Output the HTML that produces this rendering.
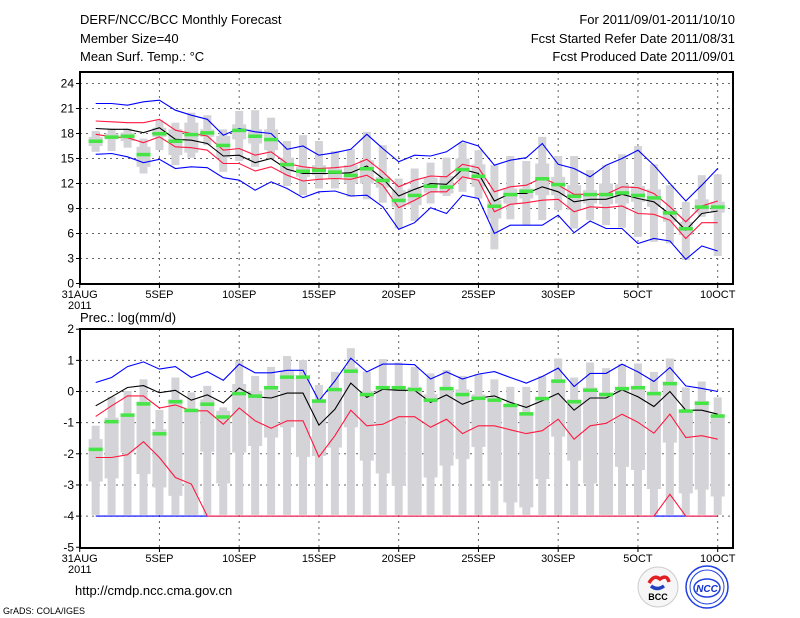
<!DOCTYPE html>
<html><head><meta charset="utf-8"><style>
body{margin:0;background:#fff;}
svg{display:block;font-family:"Liberation Sans",sans-serif;}
</style></head><body>
<svg id="c" width="800" height="618" viewBox="0 0 800 618">
<rect width="800" height="618" fill="#fff"/>
<g font-size="13" fill="#000">
<text x="80" y="24">DERF/NCC/BCC Monthly Forecast</text>
<text x="80" y="43">Member Size=40</text>
<text x="80" y="61">Mean Surf. Temp.: °C</text>
<text x="735" y="24" text-anchor="end">For 2011/09/01-2011/10/10</text>
<text x="735" y="43" text-anchor="end">Fcst Started Refer Date 2011/08/31</text>
<text x="735" y="61" text-anchor="end">Fcst Produced Date 2011/09/01</text>
<text x="80" y="322">Prec.: log(mm/d)</text>
<text x="75" y="595">http://cmdp.ncc.cma.gov.cn</text>
<text x="3" y="614" font-size="9">GrADS: COLA/IGES</text>
</g>
<g>
<circle cx="658" cy="587" r="20" fill="#f6f6f6" stroke="#ccc"/>
<path d="M649 583 q5 -9 11 -4 q7 -5 9 3" stroke="#e02020" stroke-width="3.5" fill="none"/>
<path d="M651 586 q6 5 13 0" stroke="#2040c0" stroke-width="3.5" fill="none"/>
<text x="658" y="600" font-size="9" font-weight="bold" text-anchor="middle" fill="#000">BCC</text>
</g>
<g>
<circle cx="707" cy="587" r="21" fill="#fff" stroke="#2040e0" stroke-width="1.5"/>
<circle cx="707" cy="587" r="17" fill="none" stroke="#2040e0" stroke-width="1"/>
<ellipse cx="707" cy="588" rx="13" ry="9" fill="none" stroke="#2040e0" stroke-width="1.5"/>
<text x="707" y="592" font-size="10" font-weight="bold" font-style="italic" text-anchor="middle" fill="#1030d0">NCC</text>
</g>
<g id="top"></g>
<g id="bot"></g>
</svg>
<script>
// ---- Temperature panel data (days 1..40) ----
const days=[1,2,3,4,5,6,7,8,9,10,11,12,13,14,15,16,17,18,19,20,21,22,23,24,25,26,27,28,29,30,31,32,33,34,35,36,37,38,39,40];
const tMax=[21.6,21.6,21.4,21.8,22.0,20.8,20.2,19.7,17.8,18.6,18.2,18.0,16.1,16.5,15.4,15.7,16.1,17.9,16.2,14.6,15.4,15.3,15.8,17.1,16.5,14.2,14.8,15.1,16.8,14.3,13.8,12.8,14.2,15.0,16.0,14.2,12.0,9.9,11.8,13.8];
const tMin=[15.5,15.6,15.2,14.5,14.9,13.8,14.0,13.9,12.7,12.4,11.2,12.2,11.4,10.3,11.0,11.1,10.5,10.6,9.2,6.5,7.3,9.1,8.4,10.6,10.2,6.0,7.0,7.0,7.0,8.2,6.1,7.5,6.6,6.6,4.8,5.4,5.1,2.9,4.5,3.9];
const tHi=[19.5,19.4,19.3,19.3,19.7,18.4,18.0,17.7,16.0,16.2,15.4,15.8,14.4,14.0,13.8,13.9,14.1,14.9,13.4,11.6,12.4,12.9,12.8,14.3,13.9,11.0,11.6,11.8,12.7,11.8,10.7,10.7,10.7,11.6,11.5,10.8,9.2,7.4,9.3,9.9];
const tLo=[17.9,17.6,17.5,16.9,17.6,16.4,16.3,16.0,14.4,14.4,13.5,14.0,13.0,12.3,12.5,12.6,12.5,13.0,11.8,9.1,10.0,11.0,11.0,12.8,12.4,8.6,9.5,9.7,10.0,10.1,8.6,9.2,9.1,9.3,8.4,8.3,7.6,5.4,7.3,7.3];
const tMean=[18.6,18.5,18.5,18.1,18.7,17.3,17.2,16.8,15.3,15.4,14.5,15.0,13.7,13.2,13.2,13.2,13.3,14.1,12.6,10.5,11.3,12.0,11.9,13.7,13.2,9.9,10.8,10.8,11.6,11.0,9.8,10.1,10.1,10.7,10.2,9.8,8.3,6.4,8.4,8.7];
const tWhTop=[18.3,18.6,18.6,17.4,19.6,19.3,20.5,20.2,18.5,20.7,20.8,19.9,17.1,17.8,17.1,15.9,16.1,18.2,16.6,12.6,13.8,14.5,15.1,16.9,16.0,14.2,15.3,14.7,17.6,15.3,15.3,13.6,14.2,15.5,16.5,14.3,11.8,9.8,13.0,13.1];
const tWhBot=[15.8,15.9,16.3,13.2,16.0,14.2,15.1,16.6,13.4,14.7,14.0,15.0,11.7,10.6,11.4,11.4,10.4,10.1,9.7,6.6,7.5,9.6,10.5,11.0,10.2,4.1,7.7,7.0,7.6,8.8,6.6,7.6,7.0,6.7,5.6,5.0,4.8,2.8,8.0,3.3];
const tQ3=[17.6,18.0,18.1,16.4,18.7,18.5,19.3,18.5,17.7,19.1,18.5,18.5,15.1,14.0,14.2,13.8,14.2,14.8,12.8,11.2,11.4,12.7,12.9,15.0,14.3,10.0,11.4,11.4,14.4,12.8,11.8,11.2,12.0,11.9,11.7,11.3,8.8,7.4,10.1,9.8];
const tQ1=[16.5,17.3,17.1,14.0,17.6,15.4,15.7,17.6,15.1,17.3,16.8,16.0,13.4,12.8,13.0,12.6,12.0,12.0,11.5,9.2,9.4,10.9,10.8,12.5,11.6,7.8,9.6,10.2,10.6,10.6,8.8,9.6,9.5,9.6,9.8,9.2,7.4,5.8,8.5,8.5];
const tObs=[17.1,17.6,17.7,15.5,18.0,17.1,17.9,18.1,16.6,18.4,17.7,17.3,14.3,13.5,13.6,13.4,13.0,13.8,12.4,10.0,10.6,11.7,11.6,13.7,12.9,9.3,10.7,11.1,12.6,11.9,10.5,10.7,10.7,10.9,10.6,10.3,8.5,6.6,9.2,9.2];
const tTicks=[0,3,6,9,12,15,18,21,24];
// ---- Precipitation panel data ----
const pMax=[0.29,0.45,0.8,0.95,0.72,0.8,0.45,0.64,0.36,0.88,0.6,0.6,0.68,0.68,-0.3,0.34,1.07,0.63,0.88,0.88,0.86,0.4,0.63,0.4,0.56,0.64,0.45,0.27,0.48,0.75,0.16,0.58,0.58,0.88,0.63,0.32,0.77,0.18,0.1,0.0];
const pMean=[-0.46,-0.17,0.13,0.19,-0.04,0.04,-0.28,-0.11,-0.37,0.11,-0.17,-0.21,-0.05,-0.05,-1.08,-0.57,0.27,-0.19,0.07,0.04,0.04,-0.35,-0.11,-0.41,-0.21,-0.14,-0.35,-0.51,-0.3,-0.06,-0.6,-0.21,-0.21,0.05,-0.17,-0.48,0.0,-0.6,-0.6,-0.73];
const pHi=[-0.8,-0.46,-0.14,-0.14,-0.53,-0.43,-0.62,-0.62,-1.05,-0.53,-0.94,-1.18,-0.94,-0.94,-2.1,-1.42,-0.6,-1.1,-1.05,-0.81,-0.81,-1.15,-0.89,-1.35,-1.1,-1.1,-1.23,-1.35,-1.26,-0.89,-1.53,-1.1,-1.02,-0.73,-0.99,-1.34,-0.73,-1.48,-1.42,-1.53];
const pLo=[-2.12,-2.12,-2.03,-1.61,-2.12,-2.76,-2.97,-4,-4,-4,-4,-4,-4,-4,-4,-4,-4,-4,-4,-4,-4,-4,-4,-4,-4,-4,-4,-4,-4,-4,-4,-4,-4,-4,-4,-4,-3.3,-4,-4,-4];
const pMin=[-4,-4,-4,-4,-4,-4,-4,-4,-4,-4,-4,-4,-4,-4,-4,-4,-4,-4,-4,-4,-4,-4,-4,-4,-4,-4,-4,-4,-4,-4,-4,-4,-4,-4,-4,-4,-4,-4,-4,-4];
const pWhTop=[-1.1,-0.17,0.02,0.39,-0.59,0.45,-0.03,0.18,-0.51,0.98,0.5,0.79,1.14,1.01,0.21,0.63,1.39,0.64,1.04,0.93,0.79,0.58,0.69,0.5,0.56,0.39,0.15,0.15,0.5,1.06,0.45,0.93,0.75,0.88,0.9,0.63,1.06,0.13,0.32,-0.19];
const pWhBot=[-3.96,-3.96,-3.96,-3.96,-3.96,-3.96,-3.96,-3.96,-3.96,-3.96,-3.96,-3.96,-3.96,-3.96,-3.96,-3.96,-3.96,-3.96,-3.96,-3.96,-3.96,-3.96,-3.96,-3.96,-3.96,-3.96,-3.96,-3.96,-3.96,-3.96,-3.96,-3.96,-3.96,-3.96,-3.96,-3.96,-3.96,-3.96,-3.96,-3.96];
const pQ3=[-1.53,-0.84,-0.75,-0.32,-1.21,-0.25,-0.62,-0.25,-0.62,0.24,0.02,0.18,0.66,0.5,-0.25,0.07,0.77,0.02,0.18,0.18,0.15,-0.09,0.13,0.07,-0.09,-0.21,-0.43,-0.67,-0.21,0.39,-0.25,0.13,-0.03,0.13,0.18,0,0.32,-0.6,-0.3,-0.73];
const pQ1=[-2.89,-2.79,-1.96,-2.65,-3.08,-3.35,-3.96,-1.93,-2.95,-1.96,-1.75,-1.48,-1.15,-2.1,-2.07,-1.8,-1.15,-2.22,-2.63,-3.03,-3.96,-2.76,-2.38,-2.17,-1.78,-2.87,-3.56,-3.72,-2.81,-1.45,-2.22,-2.95,-3.96,-2.42,-2.52,-3.13,-1.64,-3.27,-3.15,-3.37];
const pObs=[-1.85,-0.96,-0.75,-0.39,-1.35,-0.32,-0.6,-0.4,-0.81,-0.06,-0.14,0.13,0.47,0.47,-0.3,0.07,0.66,-0.09,0.13,0.13,0.07,-0.27,0.1,-0.09,-0.21,-0.27,-0.44,-0.71,-0.22,0.34,-0.32,0.05,-0.09,0.1,0.13,-0.06,0.26,-0.62,-0.37,-0.78];
const pTicks=[-5,-4,-3,-2,-1,0,1,2];
const xTickDays=[0,5,10,15,20,25,30,35,40];
const xTickLabels=["31AUG","5SEP","10SEP","15SEP","20SEP","25SEP","30SEP","5OCT","10OCT"];

const NS="http://www.w3.org/2000/svg";
const X0=80,X1=733;
function xs(d){return 79.7+15.95*d;}
function yT(v){return 283.5-v*8.333;}
function yB(v){return 391.5-v*31.15;}
function mk(parent,tag,attrs){const e=document.createElementNS(NS,tag);for(const k in attrs)e.setAttribute(k,attrs[k]);parent.appendChild(e);return e;}

function panel(g,top,bot,ys,ticks,gridVals,d){
  const clipId=g.id+"clip";
  const cp=mk(mk(g,"defs",{}),"clipPath",{id:clipId});
  mk(cp,"rect",{x:X0,y:top,width:X1-X0,height:bot-top});
  gridVals.forEach(v=>{const l=mk(g,"line",{x1:X0,x2:X1,y1:ys(v),y2:ys(v),stroke:"#666","stroke-width":1,"stroke-dasharray":"2,4"});
    
    });
  xTickDays.forEach(dd=>{if(dd>0){const l=mk(g,"line",{x1:xs(dd),x2:xs(dd),y1:top,y2:bot,stroke:"#666","stroke-dasharray":"2,4"});
    
    }});
  const pg=mk(g,"g",{"clip-path":"url(#"+clipId+")"});
  days.forEach((dd,i)=>{
    const x=xs(dd);
    const w=mk(pg,"rect",{x:x-4,y:ys(d.whTop[i]),width:8,height:ys(d.whBot[i])-ys(d.whTop[i]),fill:"#d4d4d8"});
    
    
    const b=mk(pg,"rect",{x:x-7,y:ys(d.q3[i]),width:14,height:ys(d.q1[i])-ys(d.q3[i]),fill:"#d4d4d8"});
    
    
  });
  function line(arr,col,name){
    const pts=days.map((dd,i)=>xs(dd).toFixed(1)+","+ys(arr[i]).toFixed(1)).join(" ");
    const p=mk(pg,"polyline",{points:pts,fill:"none",stroke:col,"stroke-width":1.1});
    
    
  }
  line(d.max,"#0000ff","max-line");line(d.min,"#0000ff","min-line");
  line(d.hi,"#ff1840","upper-percentile-line");line(d.lo,"#ff1840","lower-percentile-line");
  line(d.mean,"#000","ensemble-mean-line");
  days.forEach((dd,i)=>{
    const o=mk(pg,"rect",{x:xs(dd)-7,y:ys(d.obs[i])-1.5,width:14,height:3.5,fill:"#44e544"});
    
    
  });
  const f=mk(g,"rect",{x:X0,y:top,width:X1-X0,height:bot-top,fill:"none",stroke:"#000","stroke-width":2});
  
  
  ticks.forEach(v=>{
    mk(g,"line",{x1:X0-4,x2:X0,y1:ys(v),y2:ys(v),stroke:"#000"});
    const t=mk(g,"text",{x:X0-6,y:ys(v)+4,"text-anchor":"end","font-size":12});
    t.textContent=v;
    
    
  });
  xTickDays.forEach((dd,i)=>{
    mk(g,"line",{x1:xs(dd),x2:xs(dd),y1:bot,y2:bot+4,stroke:"#000"});
    const t=mk(g,"text",{x:xs(dd),y:bot+14,"text-anchor":"middle","font-size":11});
    t.textContent=xTickLabels[i];
    
    
  });
  const yr=mk(g,"text",{x:68,y:bot+25,"font-size":11});
  yr.textContent="2011";
  
  
}
const gt=document.getElementById("top");


panel(gt,72,284,yT,tTicks,[3,6,9,12,15,18,21,24],{whTop:tWhTop,whBot:tWhBot,q3:tQ3,q1:tQ1,max:tMax,min:tMin,hi:tHi,lo:tLo,mean:tMean,obs:tObs});
const gb=document.getElementById("bot");


panel(gb,329,548,yB,pTicks,[-4,-3,-2,-1,0,1],{whTop:pWhTop,whBot:pWhBot,q3:pQ3,q1:pQ1,max:pMax,min:pMin,hi:pHi,lo:pLo,mean:pMean,obs:pObs});
</script>
</body></html>
